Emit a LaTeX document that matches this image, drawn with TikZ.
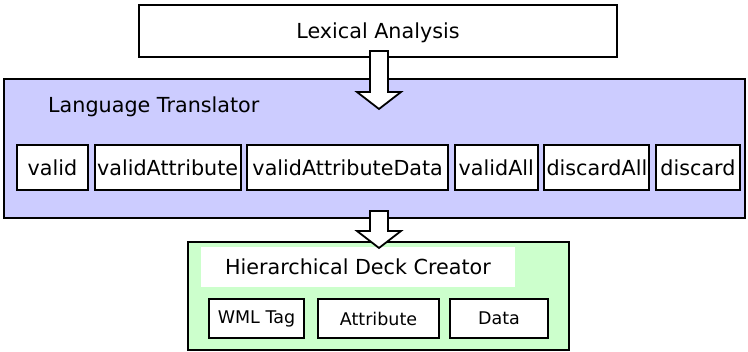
\documentclass[tikz,border=0pt]{standalone}
\usepackage{fontspec}
\setmainfont{DejaVu Sans}
\usetikzlibrary{calc,positioning}

\definecolor{transBlue}{RGB}{204,204,255}
\definecolor{deckGreen}{RGB}{204,255,204}

\begin{document}
\begin{tikzpicture}[x=1pt,y=-1pt,
	stage/.style={draw=black,line width=2pt},
	bigtext/.style={font=\fontsize{20.7}{24}\selectfont},
	cell/.style={draw=black,line width=2pt,fill=white,inner sep=2pt,minimum height=45pt,bigtext},
	part/.style={draw=black,line width=2pt,fill=white,inner sep=2pt,minimum height=39pt,font=\fontsize{17.5}{20}\selectfont},
	blockarrow/.style={draw=black,line width=1.8pt,fill=white,line join=miter}]
	\newcommand{\shaftHalf}{9}
	\newcommand{\headHalf}{22}
	\newcommand{\headLength}{17}
	\newcommand{\blockArrow}[2]{%
		\draw[blockarrow] ($(#1)+(-\shaftHalf,0)$) -- ($(#1)+(\shaftHalf,0)$)
			-- ($(#2)+(\shaftHalf,-\headLength)$) -- ($(#2)+(\headHalf,-\headLength)$)
			-- (#2) -- ($(#2)+(-\headHalf,-\headLength)$)
			-- ($(#2)+(-\shaftHalf,-\headLength)$) -- cycle;}

	\useasboundingbox (0,0) rectangle (748,352);

	% lexical analysis
	\node[stage, minimum width=478pt, minimum height=52pt, bigtext, text depth=1pt] (lexical) at (378,31) {Lexical Analysis};

	% language translator
	\node[stage, fill=transBlue, minimum width=741pt, minimum height=139pt] (translator) at (374.5,148.5) {};
	\node[anchor=base west, inner sep=0pt, bigtext] (translatorLabel) at (48,113) {Language Translator};

	\node[cell, minimum width=71pt] (valid) at (52.5,167.5) {valid};
	\node[cell, minimum width=146pt, right=4.6pt of valid] (validAttribute) {validAttribute};
	\node[cell, minimum width=201pt, right=4.6pt of validAttribute] (validAttributeData) {validAttributeData};
	\node[cell, minimum width=83pt, right=4.6pt of validAttributeData] (validAll) {validAll};
	\node[cell, minimum width=105pt, right=4.6pt of validAll] (discardAll) {discardAll};
	\node[cell, minimum width=84pt, right=4.6pt of discardAll] (discard) {discard};

	% hierarchical deck creator
	\node[stage, fill=deckGreen, minimum width=381pt, minimum height=108pt] (deck) at (378.5,296) {};
	\node[fill=white, minimum width=314pt, minimum height=40pt, bigtext] (deckLabel) at (358,267) {Hierarchical Deck Creator};

	\node[part, minimum width=95pt] (wmlTag) at (256.5,318.5) {WML Tag};
	\node[part, minimum width=121pt] (attribute) at (378.5,318.5) {Attribute};
	\node[part, minimum width=98pt] (data) at (499,318.5) {Data};

	% block arrows
	\coordinate (arrowTopA) at ($(lexical.south)+(1,-7)$);
	\coordinate (arrowTipA) at ($(translator.north)+(4.5,31)$);
	\coordinate (arrowTopB) at ($(translator.south)+(4.5,-8)$);
	\coordinate (arrowTipB) at ($(deck.north)+(0.5,7)$);
	\blockArrow{arrowTopA}{arrowTipA}
	\blockArrow{arrowTopB}{arrowTipB}
\end{tikzpicture}
\end{document}
